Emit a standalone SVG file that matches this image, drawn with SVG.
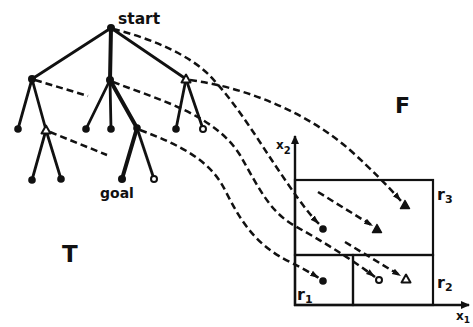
<svg xmlns="http://www.w3.org/2000/svg" xmlns:xlink="http://www.w3.org/1999/xlink" width="473" height="327" viewBox="0 0 473 327">
<style>
.edge{stroke:#111;stroke-width:2.8;stroke-linecap:round;fill:none}
.thick{stroke-width:4}
.dash{stroke:#111;stroke-width:2.5;stroke-dasharray:7 4;fill:none}
.dot{fill:#111}
.ring{fill:#fff;stroke:#111;stroke-width:2}
.otri{fill:#fff;stroke:#111;stroke-width:2;stroke-linejoin:round}
.ftri{fill:#111;stroke:#111;stroke-width:1.5;stroke-linejoin:round}
.ax{stroke:#111;stroke-width:2.4;fill:none}
.box{stroke:#111;stroke-width:2.2;fill:none}
.lbl{font-family:"DejaVu Sans","Liberation Sans",sans-serif;font-weight:bold;fill:#111}
</style>
<defs>
<path id="tri" d="M-4.5,3.5 L4.5,3.5 L0,-4.5 Z"/>
<marker id="ah" markerWidth="10" markerHeight="8" refX="9" refY="3.5" orient="auto" markerUnits="userSpaceOnUse">
<path d="M0,0.5 L9,3.5 L0,6.5 Z" fill="#111"/>
</marker>
<marker id="axh" markerWidth="10" markerHeight="10" refX="8" refY="4" orient="auto" markerUnits="userSpaceOnUse">
<path d="M0,0 L9,4 L0,8 Z" fill="#111"/>
</marker>
</defs>
<rect width="473" height="327" fill="#fff"/>

<g id="tree-edges">
<line class="edge" x1="111" y1="28" x2="32" y2="79"/>
<line class="edge thick" x1="111" y1="28" x2="110" y2="80"/>
<line class="edge" x1="111" y1="28" x2="186" y2="79"/>
<line class="edge" x1="32" y1="79" x2="18" y2="129"/>
<line class="edge" x1="32" y1="79" x2="46" y2="130"/>
<line class="edge" x1="110" y1="80" x2="86" y2="129"/>
<line class="edge" x1="110" y1="80" x2="111" y2="129"/>
<line class="edge thick" x1="110" y1="80" x2="137" y2="128"/>
<line class="edge" x1="186" y1="79" x2="176" y2="129"/>
<line class="edge" x1="186" y1="79" x2="203" y2="129"/>
<line class="edge" x1="46" y1="130" x2="32" y2="180"/>
<line class="edge" x1="46" y1="130" x2="61" y2="179"/>
<line class="edge thick" x1="137" y1="128" x2="122" y2="179"/>
<line class="edge" x1="137" y1="128" x2="154" y2="179"/>
</g>

<g id="connectors">
<path class="dash" d="M113,29 C150,38 190,55 210,76 C235,102 255,135 275,165 C290,187 305,210 319,224" marker-end="url(#ah)"/>
<path class="dash" d="M190,80 C250,88 310,115 350,150 C372,170 388,186 401,201" marker-end="url(#ah)"/>
<path class="dash" d="M113,82 C160,100 215,115 240,155 C260,190 270,212 295,226 C320,240 350,258 375,277" marker-end="url(#ah)"/>
<path class="dash" d="M140,130 C180,145 210,160 225,190 C240,220 255,245 290,262 C302,268 311,273 319,278" marker-end="url(#ah)"/>
<path class="dash" d="M35,80 L88,96"/>
<path class="dash" d="M50,132 L107,155"/>
<path class="dash" d="M318,192 L373,226" marker-end="url(#ah)"/>
<path class="dash" d="M345,242 L401,276" marker-end="url(#ah)"/>
</g>

<g id="axes">
<line class="ax" x1="295" y1="306" x2="295" y2="136" marker-end="url(#axh)"/>
<line class="ax" x1="294" y1="305" x2="469" y2="305" marker-end="url(#axh)"/>
</g>
<g id="r3"><rect class="box" x="295" y="180" width="138" height="75"/></g>
<g id="r1"><rect class="box" x="295" y="255" width="58" height="50"/></g>
<g id="r2"><rect class="box" x="353" y="255" width="80" height="50"/></g>

<g id="n-start"><circle class="dot" cx="111" cy="28" r="4"/></g>
<g id="n-a"><circle class="dot" cx="32" cy="79" r="4"/></g>
<g id="n-b"><circle class="dot" cx="110" cy="80" r="4"/></g>
<g id="n-c"><use xlink:href="#tri" class="otri" x="186" y="79"/></g>
<g id="n-a1"><circle class="dot" cx="18" cy="129" r="3.8"/></g>
<g id="n-a2"><use xlink:href="#tri" class="otri" x="46" y="130"/></g>
<g id="n-b1"><circle class="dot" cx="86" cy="129" r="3.8"/></g>
<g id="n-b2"><circle class="dot" cx="111" cy="129" r="3.8"/></g>
<g id="n-b3"><circle class="dot" cx="137" cy="128" r="3.8"/></g>
<g id="n-c1"><circle class="dot" cx="176" cy="129" r="3.8"/></g>
<g id="n-c2"><circle class="ring" cx="203" cy="129" r="3"/></g>
<g id="n-a21"><circle class="dot" cx="32" cy="180" r="3.8"/></g>
<g id="n-a22"><circle class="dot" cx="61" cy="179" r="3.8"/></g>
<g id="n-goal"><circle class="dot" cx="122" cy="179" r="4"/></g>
<g id="n-b32"><circle class="ring" cx="154" cy="179" r="3"/></g>

<g id="p1"><circle class="dot" cx="323" cy="229" r="3.8"/></g>
<g id="p2"><use xlink:href="#tri" class="ftri" x="377" y="229"/></g>
<g id="p3"><use xlink:href="#tri" class="ftri" x="405" y="205"/></g>
<g id="p4"><circle class="dot" cx="323" cy="281" r="3.8"/></g>
<g id="p5"><circle class="ring" cx="379" cy="280" r="3"/></g>
<g id="p6"><use xlink:href="#tri" class="otri" x="406" y="279"/></g>

<g id="labels">
<text class="lbl" x="118" y="24" font-size="15.5">start</text>
<text class="lbl" x="100" y="198" font-size="14">goal</text>
<text class="lbl" x="62" y="262" font-size="23">T</text>
<text class="lbl" x="395" y="113" font-size="22">F</text>
<text class="lbl" x="437" y="200" font-size="16">r<tspan font-size="11" dy="3">3</tspan></text>
<text class="lbl" x="437" y="288" font-size="16">r<tspan font-size="11" dy="3">2</tspan></text>
<text class="lbl" x="297" y="300" font-size="16">r<tspan font-size="11" dy="3">1</tspan></text>
<text class="lbl" x="276" y="149" font-size="12">x<tspan font-size="10" dy="5">2</tspan></text>
<text class="lbl" x="456" y="320" font-size="12">x<tspan font-size="9" dy="3">1</tspan></text>
</g>
</svg>
